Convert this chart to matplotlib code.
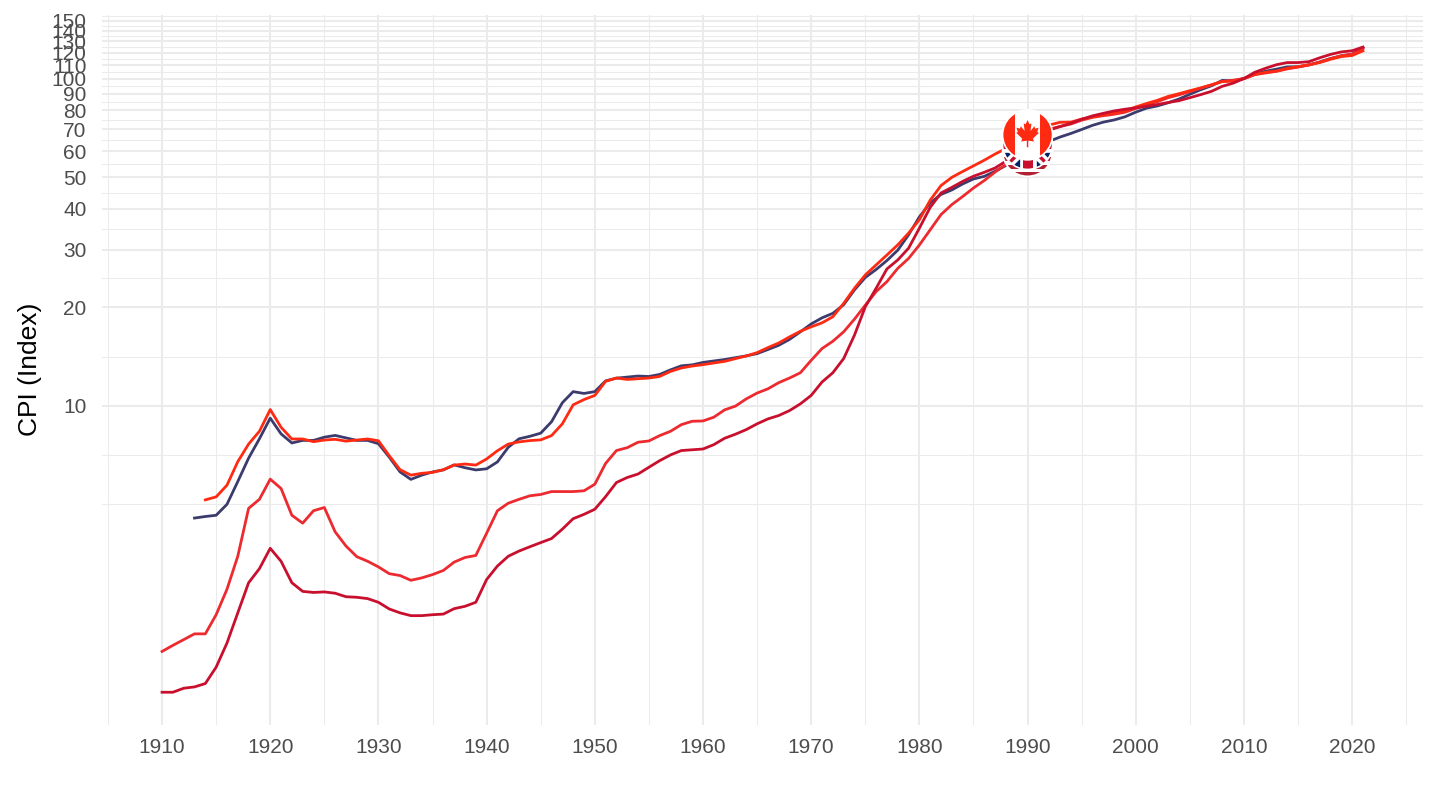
import numpy as np
import matplotlib
matplotlib.use('Agg')
import matplotlib.pyplot as plt
from matplotlib.patches import Circle, Rectangle, Polygon
from matplotlib.lines import Line2D
from matplotlib.transforms import ScaledTranslation

nan = np.nan

# annees et indices (base 2010 = 100)
annees = list(range(1910, 2022))

cpi_us = [nan, nan, nan, 4.54, 4.59, 4.63, 5.00, 5.87, 6.92, 7.93,
          9.17, 8.21, 7.70, 7.84, 7.84, 8.02, 8.12, 7.98, 7.84, 7.84,
          7.66, 6.97, 6.28, 5.96, 6.14, 6.28, 6.37, 6.60, 6.47, 6.37,
          6.42, 6.74, 7.47, 7.93, 8.07, 8.25, 8.94, 10.22, 11.05, 10.91,
          11.05, 11.92, 12.15, 12.24, 12.33, 12.29, 12.47, 12.88, 13.25, 13.34,
          13.57, 13.71, 13.85, 14.03, 14.21, 14.44, 14.86, 15.31, 15.96, 16.83,
          17.79, 18.57, 19.17, 20.36, 22.60, 24.67, 26.09, 27.79, 29.89, 33.29,
          37.78, 41.68, 44.25, 45.67, 47.64, 49.34, 50.25, 52.09, 54.24, 56.85,
          59.93, 62.45, 64.33, 66.25, 67.95, 69.88, 71.94, 73.59, 74.74, 76.39,
          78.95, 81.20, 82.48, 84.36, 86.61, 89.55, 92.43, 95.05, 98.71, 98.35,
          100.0, 103.12, 105.27, 106.83, 108.53, 108.67, 110.04, 112.38, 115.13, 117.24,
          118.66, 124.26]

cpi_canada = [nan, nan, nan, nan, 5.16, 5.27, 5.72, 6.75, 7.64, 8.36,
              9.74, 8.60, 7.92, 7.92, 7.77, 7.86, 7.90, 7.80, 7.86, 7.92,
              7.82, 7.04, 6.38, 6.14, 6.22, 6.26, 6.38, 6.59, 6.64, 6.59,
              6.88, 7.29, 7.64, 7.76, 7.83, 7.87, 8.11, 8.81, 10.07, 10.45,
              10.76, 11.88, 12.16, 12.04, 12.10, 12.16, 12.30, 12.74, 13.05, 13.23,
              13.36, 13.52, 13.67, 13.94, 14.20, 14.54, 15.06, 15.56, 16.24, 16.90,
              17.43, 17.93, 18.71, 20.56, 22.86, 25.11, 26.95, 28.90, 31.03, 33.70,
              37.03, 42.5, 47.1, 49.9, 52.0, 54.1, 56.3, 58.8, 61.1, 64.2,
              67.3, 71.1, 72.1, 73.5, 73.6, 75.2, 76.3, 77.6, 78.4, 79.7,
              81.9, 83.9, 85.8, 88.2, 89.9, 91.8, 93.6, 95.7, 97.9, 98.2,
              100.0, 102.9, 104.5, 105.4, 107.5, 108.7, 110.2, 111.9, 114.5, 116.7,
              117.6, 121.5]

cpi_uk = [1.333, 1.333, 1.371, 1.384, 1.417, 1.59, 1.884, 2.33, 2.88, 3.18,
          3.67, 3.35, 2.88, 2.71, 2.69, 2.70, 2.675, 2.61, 2.60, 2.576,
          2.51, 2.395, 2.33, 2.285, 2.285, 2.30, 2.31, 2.40, 2.44, 2.51,
          2.946, 3.24, 3.47, 3.60, 3.71, 3.82, 3.93, 4.20, 4.52, 4.66,
          4.83, 5.28, 5.83, 6.04, 6.19, 6.49, 6.80, 7.08, 7.30, 7.34,
          7.38, 7.61, 7.96, 8.19, 8.46, 8.81, 9.12, 9.34, 9.67, 10.14,
          10.76, 11.82, 12.62, 13.94, 16.44, 20.07, 22.86, 26.2, 27.9, 30.3,
          34.9, 40.4, 44.7, 46.5, 48.5, 50.3, 51.7, 53.3, 55.9, 59.0,
          62.9, 66.8, 69.6, 71.3, 73.0, 75.1, 76.9, 78.3, 79.6, 80.6,
          81.3, 82.3, 83.3, 84.5, 85.6, 87.4, 89.3, 91.4, 94.7, 96.8,
          100.0, 104.5, 107.5, 110.2, 111.9, 111.9, 112.6, 115.7, 118.5, 120.6,
          121.6, 124.8]

cpi_autre = [1.776, 1.854, 1.93, 2.01, 2.01, 2.30, 2.75, 3.47, 4.86, 5.18,
             5.97, 5.59, 4.63, 4.38, 4.78, 4.89, 4.12, 3.73, 3.46, 3.35,
             3.22, 3.07, 3.03, 2.93, 2.98, 3.05, 3.14, 3.33, 3.44, 3.49,
             4.08, 4.78, 5.04, 5.18, 5.31, 5.36, 5.47, 5.47, 5.47, 5.50,
             5.76, 6.67, 7.30, 7.45, 7.74, 7.81, 8.11, 8.36, 8.76, 8.97,
             8.99, 9.23, 9.72, 9.98, 10.50, 10.94, 11.27, 11.77, 12.16, 12.62,
             13.77, 14.96, 15.75, 16.83, 18.4, 20.3, 22.33, 23.96, 26.3, 28.2,
             31.0, 34.5, 38.4, 41.2, 43.6, 46.3, 48.8, 51.8, 54.6, 58.5,
             63.0, 67.2, 70.0, 71.4, 72.6, 74.6, 76.1, 77.0, 77.8, 78.9,
             81.0, 83.2, 85.0, 87.4, 89.2, 91.2, 93.5, 95.6, 98.0, 98.8,
             100.0, 102.8, 104.0, 105.2, 107.0, 108.4, 110.0, 112.2, 115.0, 117.5,
             118.8, 123.5]

couleur_us = '#3C3B6E'
couleur_canada = '#FF2A12'
couleur_uk = '#C8102E'
couleur_autre = '#EC2A2F'

ticks_y = [10, 20, 30, 40, 50, 60, 70, 80, 90, 100, 110, 120, 130, 140, 150]
ticks_x = list(range(1910, 2030, 10))
annee_drapeau = 1990

plt.rcParams['font.family'] = ['Liberation Sans', 'DejaVu Sans']

fig = plt.figure(figsize=(14.4, 8.1), dpi=100)

# limites a la ggplot (expansion 5%)
x0, x1 = min(annees), max(annees)
dx = (x1 - x0) * 0.05
toutes = np.array(cpi_us + cpi_canada + cpi_uk + cpi_autre, dtype=float)
lmin, lmax = np.log10(np.nanmin(toutes)), np.log10(np.nanmax(toutes))
dl = (lmax - lmin) * 0.05

ax = fig.add_axes([102 / 1440, 1 - 724.5 / 810, 1321 / 1440, 709.7 / 810])
ax.set_yscale('log')
ax.set_xlim(x0 - dx, x1 + dx)
ax.set_ylim(10 ** (lmin - dl), 10 ** (lmax + dl))

# grille : majeure + mineure (milieux en echelle log)
gris = '#EBEBEB'
lt = np.log10(ticks_y)
ext = np.concatenate([[lt[0] - (lt[1] - lt[0])], lt, [lt[-1] + (lt[-1] - lt[-2])]])
mineurs_y = np.concatenate([ext[:1], (ext[:-1] + ext[1:]) / 2])
for v in mineurs_y:
    ax.axhline(10 ** v, color=gris, lw=0.75, zorder=0)
for v in ticks_y:
    ax.axhline(v, color=gris, lw=1.5, zorder=0)
for v in np.arange(ticks_x[0] - 5, ticks_x[-1] + 10, 10):
    ax.axvline(v, color=gris, lw=0.75, zorder=0)
for v in ticks_x:
    ax.axvline(v, color=gris, lw=1.5, zorder=0)

ax.plot(annees, cpi_us, color=couleur_us, lw=2.0, zorder=2)
ax.plot(annees, cpi_autre, color=couleur_autre, lw=2.0, zorder=2)
ax.plot(annees, cpi_canada, color=couleur_canada, lw=2.0, zorder=2)
ax.plot(annees, cpi_uk, color=couleur_uk, lw=2.0, zorder=2)

ax.set_yticks(ticks_y)
ax.set_yticklabels([str(t) for t in ticks_y])
ax.yaxis.set_minor_locator(matplotlib.ticker.NullLocator())
ax.set_xticks(ticks_x)
ax.set_xticklabels([str(t) for t in ticks_x])
ax.tick_params(axis='both', length=0, labelsize=15, colors='#4D4D4D')
ax.tick_params(axis='y', pad=11)
ax.tick_params(axis='x', pad=10)
for s in ax.spines.values():
    s.set_visible(False)
ax.set_ylabel('CPI (Index)', fontsize=19, color='black')
ax.yaxis.set_label_coords(-0.0454, 0.5)

# drapeaux ronds en 1990
R = 0.25
i_drap = annees.index(annee_drapeau)


def trans_pour(y):
    return fig.dpi_scale_trans + ScaledTranslation(annee_drapeau, y, ax.transData)


def ajoute(artiste, tr, clip, z):
    artiste.set_transform(tr)
    artiste.set_clip_path(clip)
    artiste.set_zorder(z)
    if isinstance(artiste, Line2D):
        ax.add_line(artiste)
    else:
        ax.add_patch(artiste)


def bord(tr, z):
    c = Circle((0, 0), R, transform=tr, fill=False, ec='white', lw=1.2, zorder=z + 0.05)
    ax.add_patch(c)


def drapeau_us(y, z):
    tr = trans_pour(y)
    clip = Circle((0, 0), R, transform=tr)
    h = 2 * R / 13
    for k in range(13):
        c = '#B22234' if k % 2 == 0 else 'white'
        ajoute(Rectangle((-R, -R + k * h), 2 * R, h, color=c, lw=0), tr, clip, z)
    ajoute(Rectangle((-R, -R + 6 * h), 1.1 * R, 7 * h, color='#3C3B6E', lw=0), tr, clip, z + 0.01)
    bord(tr, z)


def drapeau_uk(y, z):
    tr = trans_pour(y)
    clip = Circle((0, 0), R, transform=tr)
    ajoute(Rectangle((-R, -R), 2 * R, 2 * R, color='#012169', lw=0), tr, clip, z)
    for (xa, ya, xb, yb) in [(-R, -R, R, R), (-R, R, R, -R)]:
        ajoute(Line2D([xa, xb], [ya, yb], color='white', lw=7.2, solid_capstyle='butt'), tr, clip, z + 0.01)
        ajoute(Line2D([xa, xb], [ya, yb], color='#C8102E', lw=2.4, solid_capstyle='butt'), tr, clip, z + 0.02)
    for (xa, ya, xb, yb) in [(-R, 0, R, 0), (0, -R, 0, R)]:
        ajoute(Line2D([xa, xb], [ya, yb], color='white', lw=12, solid_capstyle='butt'), tr, clip, z + 0.03)
        ajoute(Line2D([xa, xb], [ya, yb], color='#C8102E', lw=7.2, solid_capstyle='butt'), tr, clip, z + 0.04)
    bord(tr, z)


def drapeau_canada(y, z):
    tr = trans_pour(y)
    clip = Circle((0, 0), R, transform=tr)
    rouge = '#FF2A12'
    ajoute(Rectangle((-R, -R), 2 * R, 2 * R, color='white', lw=0), tr, clip, z)
    ajoute(Rectangle((-R, -R), R / 2, 2 * R, color=rouge, lw=0), tr, clip, z + 0.01)
    ajoute(Rectangle((R / 2, -R), R / 2, 2 * R, color=rouge, lw=0), tr, clip, z + 0.01)
    demi = [(0, 0.5), (0.08, 0.35), (0.16, 0.38), (0.12, 0.12), (0.28, 0.28),
            (0.31, 0.2), (0.45, 0.23), (0.4, 0.08), (0.46, 0.05), (0.22, -0.15),
            (0.26, -0.25), (0.03, -0.22), (0.03, -0.45)]
    pts = demi + [(-px, py) for (px, py) in reversed(demi)]
    s = 1.15 * R
    feuille = Polygon([(px * s * 0.85, py * s + 0.02 * R) for (px, py) in pts],
                      closed=True, color=rouge, lw=0)
    ajoute(feuille, tr, clip, z + 0.02)
    bord(tr, z)


drapeau_us(cpi_us[i_drap], 5)
drapeau_uk(cpi_uk[i_drap], 6)
drapeau_canada(cpi_canada[i_drap], 7)

fig.savefig('out.png', dpi=100)
